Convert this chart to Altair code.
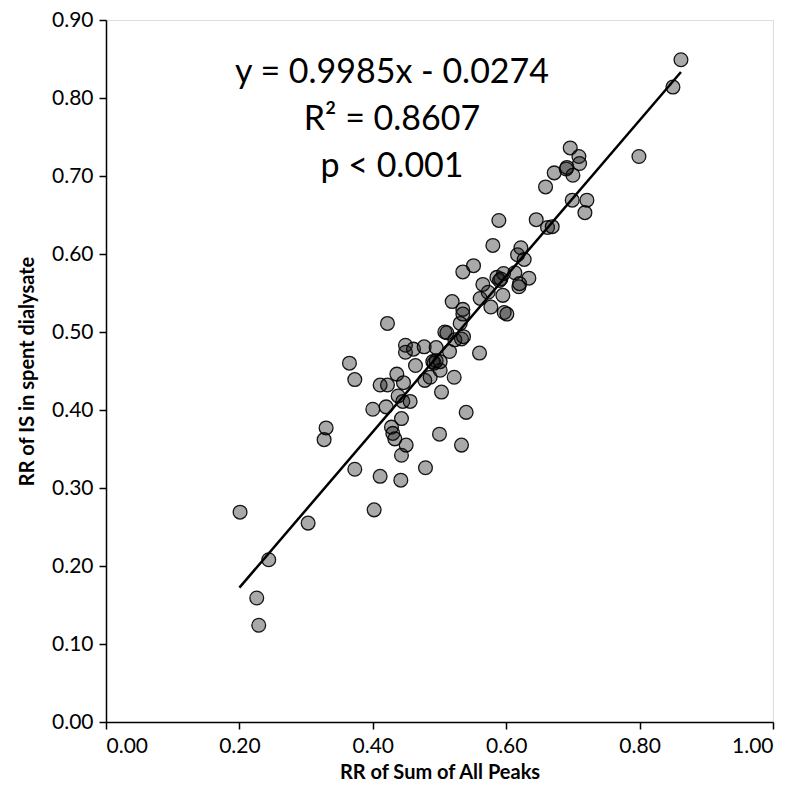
import altair as alt
import pandas as pd

# Scatter data
rr_sum_peaks = [
    0.201, 0.226, 0.229, 0.244, 0.303, 0.327, 0.330, 0.365, 0.373, 0.373,
    0.402, 0.400, 0.411, 0.411, 0.420, 0.422, 0.422, 0.428, 0.430, 0.433,
    0.436, 0.438, 0.442, 0.443, 0.443, 0.445, 0.446, 0.449, 0.449, 0.450,
    0.456, 0.461, 0.464, 0.477, 0.478, 0.479, 0.486, 0.490, 0.492, 0.495,
    0.495, 0.500, 0.501, 0.501, 0.503, 0.508, 0.511, 0.515, 0.519, 0.522,
    0.523, 0.531, 0.533, 0.533, 0.536, 0.535, 0.535, 0.535, 0.540, 0.551,
    0.560, 0.561, 0.565, 0.573, 0.577, 0.580, 0.586, 0.589, 0.590, 0.592,
    0.595, 0.596, 0.597, 0.601, 0.613, 0.617, 0.619, 0.620, 0.622, 0.627,
    0.634, 0.645, 0.659, 0.662, 0.669, 0.672, 0.690, 0.691, 0.696, 0.699,
    0.700, 0.709, 0.710, 0.718, 0.721, 0.799, 0.850, 0.862,
]
rr_is_dialysate = [
    0.269, 0.159, 0.124, 0.208, 0.255, 0.362, 0.377, 0.460, 0.439, 0.324,
    0.272, 0.401, 0.432, 0.315, 0.404, 0.432, 0.511, 0.378, 0.370, 0.363,
    0.446, 0.418, 0.310, 0.342, 0.389, 0.411, 0.435, 0.483, 0.474, 0.355,
    0.411, 0.478, 0.457, 0.481, 0.438, 0.326, 0.442, 0.462, 0.460, 0.463,
    0.480, 0.369, 0.451, 0.462, 0.423, 0.500, 0.499, 0.475, 0.539, 0.442,
    0.490, 0.511, 0.355, 0.491, 0.494, 0.529, 0.523, 0.577, 0.397, 0.585,
    0.473, 0.543, 0.561, 0.551, 0.532, 0.611, 0.570, 0.643, 0.566, 0.568,
    0.547, 0.575, 0.525, 0.523, 0.576, 0.599, 0.558, 0.562, 0.608, 0.593,
    0.569, 0.644, 0.686, 0.634, 0.635, 0.704, 0.709, 0.711, 0.736, 0.669,
    0.701, 0.725, 0.716, 0.653, 0.669, 0.725, 0.814, 0.849,
]

# Trendline from the printed equation
slope = 0.9985
intercept = -0.0274
line_x = [0.20, 0.862]
line_y = [slope * v + intercept for v in line_x]

annotation_lines = ["y = 0.9985x - 0.0274", "R² = 0.8607", "p < 0.001"]
annotation_y_px = [53, 100, 147]

x_ticks = [0.0, 0.2, 0.4, 0.6, 0.8, 1.0]
y_ticks = [0.0, 0.1, 0.2, 0.3, 0.4, 0.5, 0.6, 0.7, 0.8, 0.9]

pts = pd.DataFrame({"x": rr_sum_peaks, "y": rr_is_dialysate})
ln = pd.DataFrame({"x": line_x, "y": line_y})
ann = pd.DataFrame({"t": annotation_lines, "py": annotation_y_px})

FONT = "Lato"

xscale = alt.Scale(domain=[0, 1.0], nice=False, zero=False)
yscale = alt.Scale(domain=[0, 0.9], nice=False, zero=False)

xaxis = alt.Axis(
    title="RR of Sum of All Peaks", values=x_ticks, format=".2f", grid=False,
    domainColor="black", domainWidth=1.5, tickColor="black", tickWidth=1.5, tickSize=7,
    labelFontSize=21, labelFont=FONT, labelColor="black", labelPadding=6,
    titleFontSize=20, titleFont=FONT, titleFontWeight="bold", titleColor="black", titlePadding=6,
)
yaxis = alt.Axis(
    title="RR of IS in spent dialysate", values=y_ticks, format=".2f", grid=False,
    domainColor="black", domainWidth=1.5, tickColor="black", tickWidth=1.5, tickSize=7,
    labelFontSize=21, labelFont=FONT, labelColor="black", labelPadding=6,
    titleFontSize=20, titleFont=FONT, titleFontWeight="bold", titleColor="black", titlePadding=14,
)

points = alt.Chart(pts).mark_circle(
    size=190, color="#111111", fillOpacity=0.36, stroke="black", strokeWidth=1.3, strokeOpacity=0.9
).encode(
    x=alt.X("x:Q", scale=xscale, axis=xaxis),
    y=alt.Y("y:Q", scale=yscale, axis=yaxis),
)

trend = alt.Chart(ln).mark_line(color="black", strokeWidth=2.5).encode(
    x=alt.X("x:Q", scale=xscale),
    y=alt.Y("y:Q", scale=yscale),
)

text = alt.Chart(ann).mark_text(
    font=FONT, fontSize=34, color="black", align="center", baseline="middle"
).encode(
    x=alt.value(286),
    y=alt.Y("py:Q", scale=None),
    text="t:N",
)

chart = alt.layer(points, trend, text).properties(
    width=667, height=702,
    autosize=alt.AutoSizeParams(type="none"),
    padding={"left": 98, "top": 12, "right": 15, "bottom": 60},
).configure_view(stroke=None).configure(background="white")

chart.save("out.html", embed_options={"renderer": "svg", "actions": False})
